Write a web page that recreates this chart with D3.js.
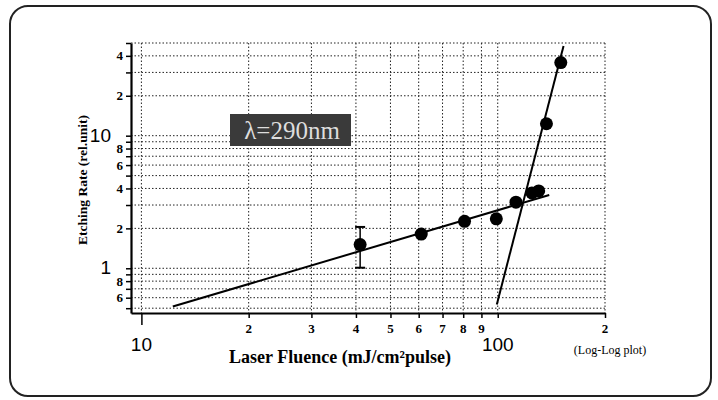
<!DOCTYPE html>
<html><head><meta charset="utf-8">
<script src="https://cdn.jsdelivr.net/npm/d3@7"></script>
<style>body{margin:0;background:#fff}svg{display:block}</style>
</head><body>
<svg id="c" width="718" height="400"></svg>
<script>
// ---- data ----
const fluence = [41.1, 61.0, 80.7, 99.1, 112.5, 124.7, 130.3, 137, 150.3];
const rate    = [1.51, 1.81, 2.26, 2.36, 3.15, 3.70, 3.83, 12.3, 35.6];
const errX = [41.1];
const errLow = [1.01];
const errHigh = [2.05];
const fitLow = [[12.25, 0.515], [139.5, 3.57]];
const fitHigh = [[99.4, 0.534], [153, 47.5]];
const xGridValues = [10,20,30,40,50,60,70,80,90,100,200];
const xSmallLabels = [[20,"2"],[30,"3"],[40,"4"],[50,"5"],[60,"6"],[70,"7"],[80,"8"],[90,"9"],[200,"2"]];
const xBigLabels = [[10,"10"],[100,"100"]];
const yGridValues = [0.5,0.6,0.7,0.8,0.9,1,2,3,4,5,6,7,8,9,10,20,30,40,50];
const ySmallLabels = [[0.6,"6"],[0.8,"8"],[2,"2"],[4,"4"],[6,"6"],[8,"8"],[20,"2"],[40,"4"]];
const yBigLabels = [[1,"1"],[10,"10"]];
const labelText = "λ=290nm";
const xTitle = "Laser Fluence (mJ/cm²pulse)";
const yTitle = "Etching Rate (rel.unit)";
const noteText = "(Log-Log plot)";

const svg = d3.select("#c");
// frame
svg.append("rect").attr("x",10).attr("y",6).attr("width",701).attr("height",390)
  .attr("rx",18).attr("fill","#fff").attr("stroke","#222").attr("stroke-width",2);

const x = d3.scaleLog().domain([9.35, 200]).range([131, 605]);
const y = d3.scaleLog().domain([0.46, 50]).range([313, 43]);

const g = svg.append("g");
// grid
g.selectAll(".gx").data(xGridValues).join("line")
  .attr("x1",d=>x(d)).attr("x2",d=>x(d)).attr("y1",y(50)).attr("y2",y(0.46))
  .attr("stroke","#222").attr("stroke-width",1).attr("stroke-dasharray","1.5,2");
g.selectAll(".gy").data(yGridValues).join("line")
  .attr("x1",x(9.35)).attr("x2",x(200)).attr("y1",d=>y(d)).attr("y2",d=>y(d))
  .attr("stroke","#222").attr("stroke-width",1).attr("stroke-dasharray","1.5,2");

// axes
const xAxis = d3.axisBottom(x).tickValues(xGridValues).tickFormat("").tickSizeOuter(0).tickSizeInner(5);
const ax = svg.append("g").attr("transform",`translate(0,${y(0.46)})`).call(xAxis);
ax.select(".domain").attr("stroke","#000").attr("stroke-width",2.2);
ax.selectAll(".tick line").attr("stroke","#000").attr("stroke-width",1.5)
  .attr("y2",d=>d===10?12:5);
const yAxis = d3.axisLeft(y).tickValues(yGridValues).tickFormat("").tickSizeOuter(0).tickSizeInner(5);
const ay = svg.append("g").attr("transform",`translate(${x(9.35)},0)`).call(yAxis);
ay.select(".domain").attr("stroke","#000").attr("stroke-width",2.2);
ay.selectAll(".tick line").attr("stroke","#000").attr("stroke-width",1.5);

// tick labels
svg.selectAll(".xs").data(xSmallLabels).join("text")
  .attr("x",d=>x(d[0])).attr("y",333).attr("text-anchor","middle")
  .attr("font-family","Liberation Serif, serif").attr("font-weight","bold").attr("font-size",13)
  .text(d=>d[1]);
svg.selectAll(".xb").data(xBigLabels).join("text")
  .attr("x",d=>x(d[0])).attr("y",351).attr("text-anchor","middle")
  .attr("font-family","Liberation Sans, sans-serif").attr("font-size",19)
  .text(d=>d[1]);
svg.selectAll(".ys").data(ySmallLabels).join("text")
  .attr("x",123).attr("y",d=>y(d[0])+4.5).attr("text-anchor","end")
  .attr("font-family","Liberation Serif, serif").attr("font-weight","bold").attr("font-size",13)
  .text(d=>d[1]);
svg.selectAll(".yb").data(yBigLabels).join("text")
  .attr("x",111).attr("y",d=>y(d[0])+6).attr("text-anchor","end")
  .attr("font-family","Liberation Sans, sans-serif").attr("font-size",19)
  .text(d=>d[1]);

// titles
svg.append("text").attr("x",340).attr("y",363).attr("text-anchor","middle")
  .attr("font-family","Liberation Serif, serif").attr("font-weight","bold").attr("font-size",18)
  .text(xTitle);
svg.append("text").attr("transform","translate(87,180) rotate(-90)").attr("text-anchor","middle")
  .attr("font-family","Liberation Serif, serif").attr("font-weight","bold").attr("font-size",13.5)
  .text(yTitle);
svg.append("text").attr("x",610).attr("y",354).attr("text-anchor","middle")
  .attr("font-family","Liberation Serif, serif").attr("font-size",12)
  .text(noteText);

// label box
svg.append("rect").attr("x",230).attr("y",114).attr("width",121).attr("height",32).attr("fill","#3a3a3a");
svg.append("text").attr("x",292).attr("y",139).attr("text-anchor","middle")
  .attr("font-family","Liberation Serif, serif").attr("font-size",25).attr("fill","#ddd")
  .text(labelText);

// fit lines
const line = d3.line().x(d=>x(d[0])).y(d=>y(d[1]));
svg.append("path").attr("d",line(fitLow)).attr("fill","none").attr("stroke","#000").attr("stroke-width",2);
svg.append("path").attr("d",line(fitHigh)).attr("fill","none").attr("stroke","#000").attr("stroke-width",2);

// error bar
errX.forEach((v,i)=>{
  svg.append("line").attr("x1",x(v)).attr("x2",x(v)).attr("y1",y(errLow[i])).attr("y2",y(errHigh[i]))
    .attr("stroke","#000").attr("stroke-width",1.5);
  [errLow[i],errHigh[i]].forEach(e=>svg.append("line").attr("x1",x(v)-5).attr("x2",x(v)+5)
    .attr("y1",y(e)).attr("y2",y(e)).attr("stroke","#000").attr("stroke-width",2));
});

// points
svg.selectAll(".pt").data(fluence.map((f,i)=>[f,rate[i]])).join("circle")
  .attr("cx",d=>x(d[0])).attr("cy",d=>y(d[1])).attr("r",6.5).attr("fill","#000");
</script>
</body></html>
